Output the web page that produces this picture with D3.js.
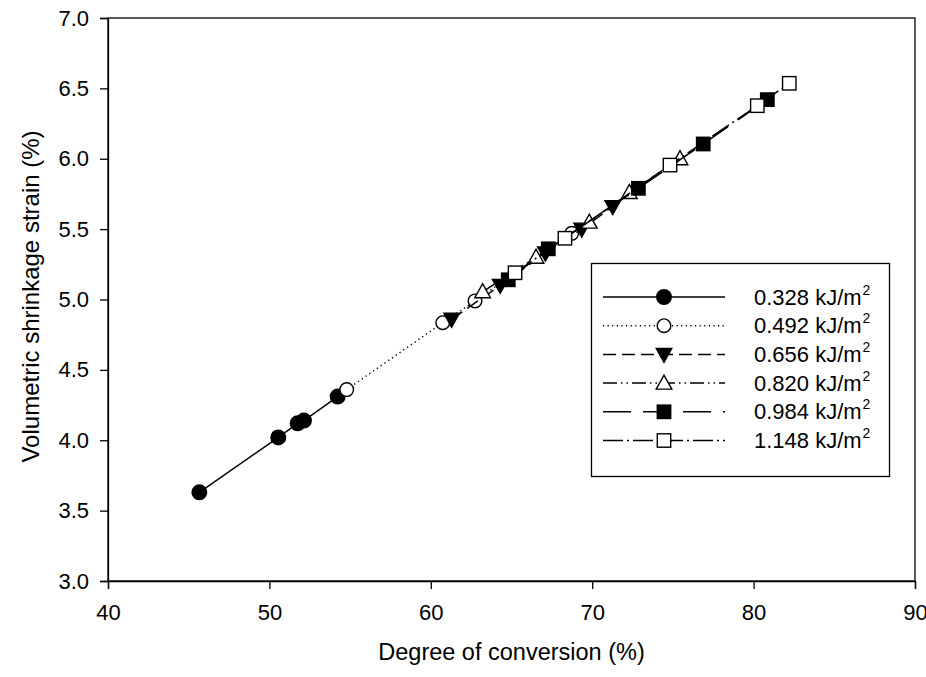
<!DOCTYPE html>
<html><head><meta charset="utf-8">
<script src="https://cdn.jsdelivr.net/npm/d3@7/dist/d3.min.js"></script>
<style>body{margin:0;background:#fff}svg{display:block;font-family:"Liberation Sans",Arial,sans-serif}</style>
</head><body>
<svg id="c" width="926" height="677"></svg>
<script>
const seriesNames = ["0.328 kJ/m", "0.492 kJ/m", "0.656 kJ/m", "0.820 kJ/m", "0.984 kJ/m", "1.148 kJ/m"];
const s1x = [45.66, 50.55, 51.75, 52.14, 54.23];
const s1y = [3.63, 4.02, 4.12, 4.14, 4.31];
const s2x = [54.79, 60.74, 62.74, 68.73];
const s2y = [4.36, 4.835, 4.99, 5.47];
const s3x = [61.29, 64.3, 67.1, 69.35, 71.27];
const s3y = [4.86, 5.10, 5.33, 5.50, 5.66];
const s4x = [63.21, 66.52, 69.82, 72.30, 75.44];
const s4y = [5.055, 5.30, 5.55, 5.76, 6.0];
const s5x = [64.8, 67.28, 72.86, 76.88, 80.85];
const s5y = [5.14, 5.36, 5.79, 6.105, 6.42];
const s6x = [65.22, 68.31, 74.82, 80.23, 82.21];
const s6y = [5.19, 5.435, 5.955, 6.377, 6.536];
const xTicks = [40, 50, 60, 70, 80, 90];
const yTicks = [3.0, 3.5, 4.0, 4.5, 5.0, 5.5, 6.0, 6.5, 7.0];

const xs = [s1x, s2x, s3x, s4x, s5x, s6x];
const ys = [s1y, s2y, s3y, s4y, s5y, s6y];
const markers = ["circle", "circle", "triDown", "triUp", "square", "square"];
const fills = ["#000", "#fff", "#000", "#fff", "#000", "#fff"];
const dashes = [null, "1.2,3.4", "13,6", "14,4,1.5,4,1.5,4", "28,12", "20,4,2,4"];

const svg = d3.select("#c");
const L = 108, R = 915, T = 18, B = 581;
const x = d3.scaleLinear().domain([40, 90]).range([L, R]);
const y = d3.scaleLinear().domain([3, 7]).range([B, T]);

svg.append("rect").attr("x", L).attr("y", T).attr("width", R - L).attr("height", B - T)
  .attr("fill", "none").attr("stroke", "#000").attr("stroke-width", 1.3);

const xa = svg.append("g").attr("transform", `translate(0,${B})`)
  .call(d3.axisBottom(x).tickValues(xTicks).tickFormat(d3.format("d")).tickSize(8).tickPadding(15));
const ya = svg.append("g").attr("transform", `translate(${L},0)`)
  .call(d3.axisLeft(y).tickValues(yTicks).tickFormat(d3.format(".1f")).tickSize(8).tickPadding(11));
[xa, ya].forEach(a => {
  a.select(".domain").attr("stroke", "#000").attr("stroke-width", 1.3);
  a.selectAll(".tick line").attr("stroke", "#000").attr("stroke-width", 1.3);
  a.selectAll("text").attr("font-size", 22).attr("fill", "#000")
    .attr("font-family", '"Liberation Sans",Arial,sans-serif');
});

svg.append("text").attr("x", (L + R) / 2).attr("y", 660).attr("text-anchor", "middle")
  .attr("font-size", 23.5).text("Degree of conversion (%)");
svg.append("text").attr("transform", `translate(39,${(T + B) / 2 - 3}) rotate(-90)`)
  .attr("text-anchor", "middle").attr("font-size", 24).text("Volumetric shrinkage strain (%)");

function drawMarker(g, type, cx, cy, fill) {
  let sel;
  if (type === "circle") {
    sel = g.append("circle").attr("cx", cx).attr("cy", cy).attr("r", fill === "#000" ? 7.3 : 6.8);
  } else if (type === "square") {
    sel = g.append("rect").attr("x", cx - 6.7).attr("y", cy - 6.7).attr("width", 13.4).attr("height", 13.4);
  } else if (type === "triDown") {
    sel = g.append("path").attr("d", `M${cx - 7.8},${cy - 6}L${cx + 7.8},${cy - 6}L${cx},${cy + 8}Z`);
  } else {
    sel = g.append("path").attr("d", `M${cx - 7.8},${cy + 6}L${cx + 7.8},${cy + 6}L${cx},${cy - 8}Z`);
  }
  sel.attr("fill", fill).attr("stroke", "#000").attr("stroke-width", 1.4);
}

const line = d3.line().x(d => x(d[0])).y(d => y(d[1]));
const plot = svg.append("g");
xs.forEach((sx, i) => {
  const pts = sx.map((v, j) => [v, ys[i][j]]);
  const g = plot.append("g");
  g.append("path").attr("d", line(pts)).attr("fill", "none").attr("stroke", "#000")
    .attr("stroke-width", 1.5).attr("stroke-dasharray", dashes[i]);
  pts.forEach(p => drawMarker(g, markers[i], x(p[0]), y(p[1]), fills[i]));
});

const lg = svg.append("g");
lg.append("rect").attr("x", 591.5).attr("y", 263.5).attr("width", 298).attr("height", 213)
  .attr("fill", "#fff").attr("stroke", "#000").attr("stroke-width", 1.3);
seriesNames.forEach((name, i) => {
  const cy = 297 + i * 28.7;
  lg.append("line").attr("x1", 603).attr("x2", 725).attr("y1", cy).attr("y2", cy)
    .attr("stroke", "#000").attr("stroke-width", 1.5).attr("stroke-dasharray", dashes[i]);
  drawMarker(lg, markers[i], 664, cy, fills[i]);
  const t = lg.append("text").attr("x", 754).attr("y", cy + 7.5).attr("font-size", 22).text(name);
  t.append("tspan").attr("dx", 1).attr("dy", -10).attr("font-size", 14).text("2");
});
</script>
</body></html>
